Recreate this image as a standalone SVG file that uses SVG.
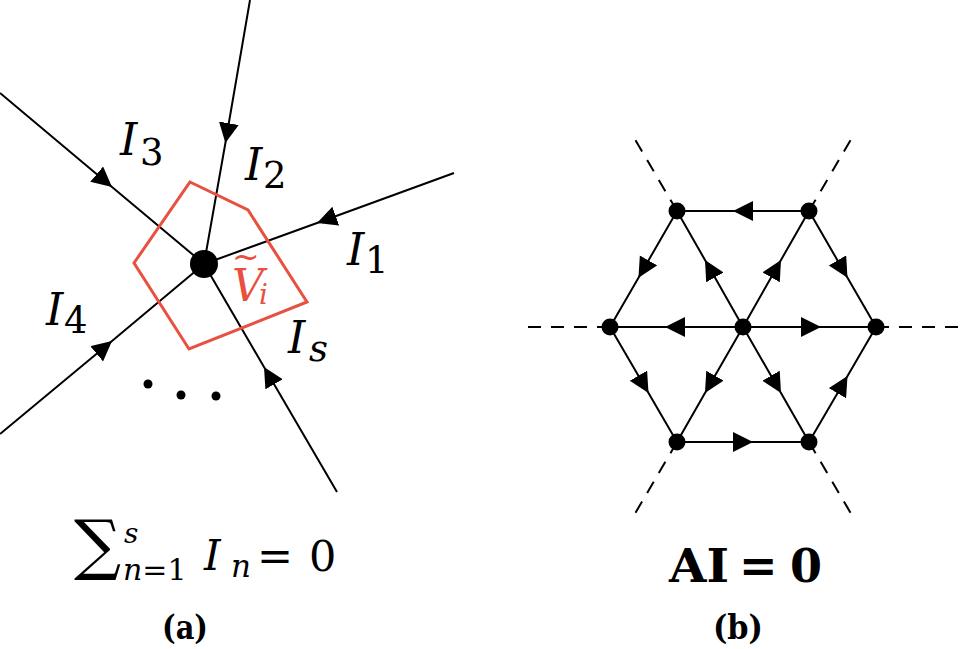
<svg xmlns="http://www.w3.org/2000/svg" width="969" height="649" viewBox="0 0 969 649">
<style>
.ln{stroke:#000;stroke-width:2;fill:none;marker-mid:url(#ah)}
.dash{stroke:#000;stroke-width:2;fill:none;stroke-dasharray:13,10}
.node{fill:#000}
text{font-family:'DejaVu Serif','Liberation Serif',serif}
.it{font-style:italic;font-size:44px}
.sub{font-size:37px;font-style:normal}
.subi{font-style:italic;font-size:37px}
.bf{font-weight:bold}
</style>
<defs>
<marker id="ah" markerUnits="userSpaceOnUse" markerWidth="22" markerHeight="22" refX="20" refY="10" orient="auto" viewBox="0 0 22 22">
<path d="M0,0 L20,10 L0,20 z" fill="#000"/>
</marker>
</defs>
<rect width="969" height="649" fill="#fff"/>
<!-- (a) -->
<g id="connectors-a">
<path class="ln" d="M250,0 L225.4,143 L204,264"/>
<path class="ln" d="M454,173 L317,223 L204,264"/>
<path class="ln" d="M0,93 L112,187 L204,264"/>
<path class="ln" d="M0,434 L112,341 L204,264"/>
<path class="ln" d="M337,492 L264,367 L204,264"/>
</g>
<g id="region-Vi">
<polygon points="190,182 248,210 307,302 189,349 134,263" fill="none" stroke="#E8503F" stroke-width="3"/>
<text fill="#E8503F"><tspan x="232" y="268" font-size="33">~</tspan><tspan x="232" y="301" class="it">V</tspan><tspan x="259" y="304" font-style="italic" font-size="28">i</tspan></text>
</g>
<g id="node-center">
<circle cx="204" cy="264" r="14" class="node"/>
</g>
<g id="labels-a">
<text><tspan x="120" y="155" class="it">I</tspan><tspan x="140" y="165" class="sub">3</tspan></text>
<text><tspan x="245" y="180" class="it">I</tspan><tspan x="263" y="188" class="sub">2</tspan></text>
<text><tspan x="347" y="265" class="it">I</tspan><tspan x="365" y="273" class="sub">1</tspan></text>
<text><tspan x="46" y="325" class="it">I</tspan><tspan x="64" y="333" class="sub">4</tspan></text>
<text><tspan x="288" y="353" class="it">I</tspan><tspan x="309" y="361" class="subi" font-size="40">s</tspan></text>
</g>
<g id="dots">
<circle cx="148" cy="384" r="4.5" class="node"/>
<circle cx="181" cy="395" r="4.5" class="node"/>
<circle cx="216" cy="396" r="4.5" class="node"/>
</g>
<g id="formula-a">
<text><tspan x="74" y="567" font-size="66">∑</tspan><tspan x="124" y="543" font-style="italic" font-size="28">s</tspan><tspan x="123" y="580" font-style="italic" font-size="30">n</tspan><tspan font-size="30">=1</tspan><tspan x="204" y="570" font-style="italic" font-size="42">I</tspan><tspan x="231" y="577" font-style="italic" font-size="31">n</tspan><tspan x="257" y="571" font-size="43">=</tspan><tspan x="309" y="571" font-size="43">0</tspan></text>
<text x="162" y="639" class="bf" font-size="33" textLength="46" lengthAdjust="spacingAndGlyphs">(a)</text>
</g>
<!-- (b) -->
<g id="connectors-b">
<path class="dash" d="M610,327 L527,327"/>
<path class="dash" d="M876,327 L960,327"/>
<path class="dash" d="M677,211 L633,136"/>
<path class="dash" d="M809,211 L853,136"/>
<path class="dash" d="M677,442 L633,517"/>
<path class="dash" d="M809,442 L853,517"/>
<path class="ln" d="M809,211 L733,211 L677,211"/>
<path class="ln" d="M743,327 L665,327 L610,327"/>
<path class="ln" d="M743,327 L821,327 L876,327"/>
<path class="ln" d="M677,442 L753,442 L809,442"/>
<path class="ln" d="M677,211 L638.5,277.7 L610,327"/>
<path class="ln" d="M743,327 L705,260 L677,211"/>
<path class="ln" d="M743,327 L781,260 L809,211"/>
<path class="ln" d="M809,211 L847.5,277.7 L876,327"/>
<path class="ln" d="M610,327 L648.5,393 L677,442"/>
<path class="ln" d="M743,327 L705,393 L677,442"/>
<path class="ln" d="M743,327 L781,393 L809,442"/>
<path class="ln" d="M809,442 L847.5,376 L876,327"/>
</g>
<g id="node-b-c"><circle cx="743" cy="327" r="8.5" class="node"/></g>
<g id="node-b-l"><circle cx="610" cy="327" r="8.5" class="node"/></g>
<g id="node-b-r"><circle cx="876" cy="327" r="8.5" class="node"/></g>
<g id="node-b-tl"><circle cx="677" cy="211" r="8.5" class="node"/></g>
<g id="node-b-tr"><circle cx="809" cy="211" r="8.5" class="node"/></g>
<g id="node-b-bl"><circle cx="677" cy="442" r="8.5" class="node"/></g>
<g id="node-b-br"><circle cx="809" cy="442" r="8.5" class="node"/></g>
<g id="formula-b">
<text class="bf" font-size="46"><tspan x="669" y="582" textLength="60" lengthAdjust="spacingAndGlyphs">AI</tspan><tspan x="739" y="582">=</tspan><tspan x="790" y="582">0</tspan></text>
<text x="713" y="639" class="bf" font-size="33" textLength="50" lengthAdjust="spacingAndGlyphs">(b)</text>
</g>
</svg>
